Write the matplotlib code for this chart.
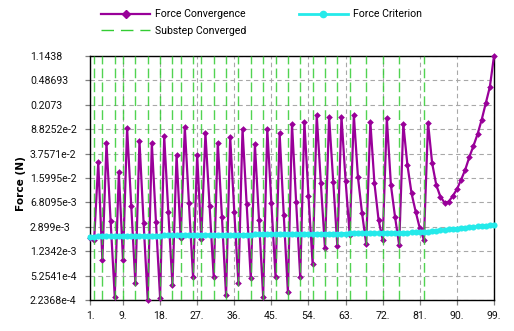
import matplotlib
matplotlib.use("Agg")
import matplotlib.pyplot as plt
from matplotlib.ticker import NullLocator
from matplotlib.lines import Line2D

plt.rcParams['font.family'] = ['Roboto', 'DejaVu Sans']

# Cumulative iteration numbers
iterations = list(range(1, 100))

# Force convergence (N) per cumulative iteration
force_convergence = [
    1.975e-3, 1.812e-3, 2.763e-2, 9.07e-4, 5.378e-2, 3.557e-3, 2.521e-4, 1.948e-2, 9.07e-4, 9.133e-2,
    6.094e-3, 4.102e-4, 5.857e-2, 3.352e-3, 2.24e-4, 5.378e-2, 3.469e-3, 2.436e-4, 6.888e-2, 4.798e-3,
    3.766e-4, 3.570e-2, 1.975e-3, 9.450e-2, 6.583e-3, 4.951e-4, 3.570e-2, 1.875e-3, 7.630e-2, 6.094e-3,
    5.079e-4, 5.518e-2, 4.150e-3, 2.653e-4, 6.772e-2, 4.922e-3, 3.998e-4, 8.825e-2, 6.417e-3, 4.782e-4,
    5.197e-2, 3.681e-3, 2.521e-4, 8.825e-2, 6.583e-3, 5.079e-4, 7.630e-2, 4.368e-3, 2.989e-4, 0.1056,
    6.988e-3, 4.951e-4, 0.1150, 8.431e-3, 7.915e-4, 0.1448, 1.326e-2, 1.367e-3, 0.1364, 1.408e-2,
    1.477e-3, 0.1364, 1.456e-2, 2.169e-3, 0.1448, 1.641e-2, 4.637e-3, 1.594e-3, 0.1150, 1.326e-2,
    3.681e-3, 1.828e-3, 0.1296, 1.238e-2, 4.080e-3, 1.528e-3, 0.1056, 2.515e-2, 9.341e-3, 4.922e-3,
    2.754e-3, 1.828e-3, 0.1111, 2.670e-2, 1.249e-2, 8.287e-3, 6.753e-3, 6.988e-3, 8.503e-3, 1.080e-2,
    1.494e-2, 2.120e-2, 3.306e-2, 4.896e-2, 7.378e-2, 0.1221, 0.2182, 0.3901, 1.1438,
]

# Force criterion (N) per cumulative iteration
force_criterion = [
    2.06e-3, 2.06e-3, 2.08e-3, 2.08e-3, 2.09e-3, 2.09e-3, 2.09e-3, 2.10e-3, 2.10e-3, 2.11e-3,
    2.11e-3, 2.11e-3, 2.12e-3, 2.12e-3, 2.12e-3, 2.13e-3, 2.13e-3, 2.13e-3, 2.14e-3, 2.14e-3,
    2.14e-3, 2.15e-3, 2.15e-3, 2.16e-3, 2.16e-3, 2.16e-3, 2.17e-3, 2.17e-3, 2.18e-3, 2.18e-3,
    2.18e-3, 2.19e-3, 2.19e-3, 2.19e-3, 2.20e-3, 2.20e-3, 2.20e-3, 2.21e-3, 2.21e-3, 2.21e-3,
    2.22e-3, 2.22e-3, 2.22e-3, 2.23e-3, 2.23e-3, 2.23e-3, 2.24e-3, 2.24e-3, 2.24e-3, 2.25e-3,
    2.25e-3, 2.25e-3, 2.26e-3, 2.26e-3, 2.27e-3, 2.27e-3, 2.27e-3, 2.28e-3, 2.28e-3, 2.28e-3,
    2.29e-3, 2.29e-3, 2.29e-3, 2.30e-3, 2.30e-3, 2.31e-3, 2.31e-3, 2.32e-3, 2.32e-3, 2.33e-3,
    2.33e-3, 2.34e-3, 2.34e-3, 2.35e-3, 2.35e-3, 2.36e-3, 2.36e-3, 2.37e-3, 2.38e-3, 2.39e-3,
    2.40e-3, 2.41e-3, 2.45e-3, 2.49e-3, 2.53e-3, 2.57e-3, 2.61e-3, 2.65e-3, 2.69e-3, 2.73e-3,
    2.77e-3, 2.81e-3, 2.85e-3, 2.89e-3, 2.93e-3, 2.97e-3, 3.01e-3, 3.05e-3, 3.08e-3,
]

# Iterations at which a substep converged
substep_converged = [2, 4, 7, 9, 12, 15, 18, 21, 23, 26, 28, 31, 34, 37, 40, 43, 46,
                     49, 52, 55, 58, 61, 64, 68, 72, 76, 82]

x_ticks = [1, 9, 18, 27, 36, 45, 54, 63, 72, 81, 90, 99]
x_tick_labels = ["1.", "9.", "18.", "27.", "36.", "45.", "54.", "63.", "72.", "81.", "90.", "99."]

y_ticks = [2.2368e-4, 5.2541e-4, 1.2342e-3, 2.899e-3, 6.8095e-3, 1.5995e-2,
           3.7571e-2, 8.8252e-2, 0.2073, 0.48693, 1.1438]
y_tick_labels = ["2.2368e-4", "5.2541e-4", "1.2342e-3", "2.899e-3", "6.8095e-3", "1.5995e-2",
                 "3.7571e-2", "8.8252e-2", "0.2073", "0.48693", "1.1438"]

W, H = 514, 331
fig = plt.figure(figsize=(W / 100, H / 100), dpi=100)
ax = fig.add_axes([90 / W, 1 - 300 / H, (494 - 90) / W, (300 - 56) / H])

purple = '#990099'
cyan = '#25eaea'
green = '#33cc33'
fs = 7.6

ax.set_yscale('log')
ax.set_xlim(1, 99)
ax.set_ylim(y_ticks[0], y_ticks[-1])

ax.set_xticks(x_ticks)
ax.set_xticklabels(x_tick_labels)
ax.set_yticks(y_ticks)
ax.set_yticklabels(y_tick_labels)
ax.yaxis.set_minor_locator(NullLocator())
ax.xaxis.set_minor_locator(NullLocator())

ax.grid(True, color='#a8a8a8', linestyle=(0, (4, 3)), linewidth=0.8, zorder=0)
ax.set_axisbelow(True)

ax.tick_params(axis='both', direction='out', length=3.6, width=0.9, color='#808080',
               labelsize=fs, labelcolor='#111111')
ax.tick_params(axis='y', pad=39.6)
for lab in ax.get_yticklabels():
    lab.set_horizontalalignment('left')
ax.tick_params(axis='x', pad=4.5)

for sp in ax.spines.values():
    sp.set_color('black')
    sp.set_linewidth(1.0)

ax.plot(iterations, force_convergence, color=purple, lw=1.6, marker='D', ms=3.4,
        markeredgewidth=0, zorder=3, clip_on=False)
ax.vlines(substep_converged, 0, 1, transform=ax.get_xaxis_transform(), colors=green,
          linewidth=1.0, linestyles=[(0, (7, 3))], alpha=0.85, zorder=4)
ax.plot(iterations, force_criterion, color=cyan, lw=2.2, marker='o', ms=4.4,
        markeredgewidth=0, zorder=5, clip_on=False)

fig.text(21 / W, 1 - 184 / H, 'Force (N)', rotation=90, ha='center', va='center',
         fontsize=fs, fontweight='bold', family=['DejaVu Sans'])

handles = [
    Line2D([], [], color=purple, lw=1.6, marker='D', ms=4),
    Line2D([], [], color=green, lw=1.0, linestyle=(0, (9, 5))),
    Line2D([], [], color=cyan, lw=2.0, marker='o', ms=4.5),
]
labels = ['Force Convergence', 'Substep Converged', 'Force Criterion']
fig.legend(handles, labels, loc='upper left', bbox_to_anchor=(97 / W, 1 - 5 / H),
           ncol=2, frameon=False, fontsize=fs, handlelength=4.6, handletextpad=0.5,
           columnspacing=5.0, labelspacing=0.6, borderaxespad=0)

fig.savefig('out.png', dpi=100)
